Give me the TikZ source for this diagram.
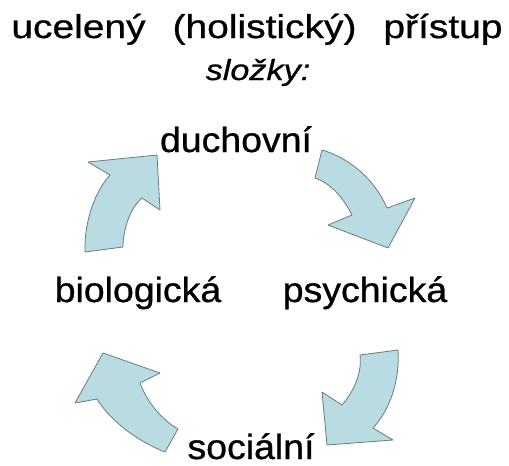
\documentclass[tikz,border=0pt]{standalone}
\usepackage{fontspec}
\newfontfamily\titlefont[FakeStretch=1.18, FakeBold=0.8]{Liberation Sans}
\newfontfamily\labelfont[FakeStretch=1.07, FakeBold=0.8]{Liberation Sans}
\definecolor{sipka}{RGB}{185,220,227}
\definecolor{obrys}{RGB}{105,122,128}

\begin{document}
\begin{tikzpicture}[x=1pt, y=-1pt, line join=round]
        \tikzstyle{every node}=[inner sep=0pt, anchor=base, text=black]
        \tikzstyle{nadpis}=[font=\titlefont\fontsize{33}{40}\selectfont]
        \tikzstyle{slozka}=[font=\labelfont\fontsize{35}{42}\selectfont]
        \tikzstyle{oblouk}=[fill=sipka, draw=obrys, line width=0.8pt]
        \useasboundingbox (0,0) rectangle (509,466);
        % nadpis
        \node[nadpis] (T) at (257,38) {\spaceskip=27pt ucelený (holistický) přístup};
        \node[nadpis, font=\titlefont\fontsize{29}{36}\selectfont\itshape] (S) at (258,80) {složky:};
        % slozky
        \node[slozka] (duch)  at (236,152) {duchovní};
        \node[slozka] (bio)   at (138,302) {biologická};
        \node[slozka] (psych) at (365,302) {psychická};
        \node[slozka] (soc)   at (251,459) {sociální};
        % sipky
        \draw[oblouk] (85,252) -- (123,247) .. controls (123,228) and (131,207) .. (142,198)
                -- (160,210) -- (157,155) -- (88,162) -- (110,175)
                .. controls (96,190) and (84,220) .. (85,252) -- cycle;
        \draw[oblouk] (322,150) -- (315,178) .. controls (330,183) and (343,197) .. (352,215)
                -- (328,225) -- (388,248) -- (415,198) -- (387,208)
                .. controls (375,180) and (350,158) .. (322,150) -- cycle;
        \draw[oblouk] (360,355) -- (398,350) .. controls (400,380) and (390,410) .. (373,428)
                -- (393,440) -- (327,445) -- (322,392) -- (342,405)
                .. controls (355,390) and (362,372) .. (360,355) -- cycle;
        \draw[oblouk] (165,452) -- (178,429) .. controls (162,420) and (147,402) .. (140,383)
                -- (160,373) -- (103,353) -- (75,403) -- (97,399)
                .. controls (110,420) and (135,440) .. (165,452) -- cycle;
      \end{tikzpicture}
\end{document}
